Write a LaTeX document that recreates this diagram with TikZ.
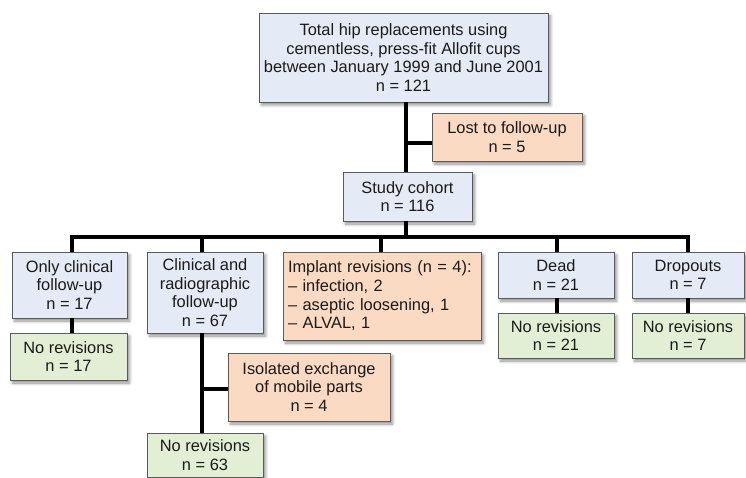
\documentclass[tikz,border=0pt]{standalone}
\usepackage{fontspec}
\setmainfont{Liberation Sans}
\usetikzlibrary{shadows.blur}
\definecolor{bluefill}{HTML}{E4EBF6}
\definecolor{orangefill}{HTML}{FBDAC4}
\definecolor{greenfill}{HTML}{E3EFD4}
\definecolor{edgegray}{HTML}{5A5A5A}
\definecolor{textcol}{HTML}{1A1A1A}
\tikzset{
  basebox/.style={draw=edgegray, line width=0.9pt, inner sep=2pt, align=center,
    text=textcol, font=\fontsize{16.4}{18.7}\selectfont,
    blur shadow={shadow xshift=2.5pt, shadow yshift=-3pt, shadow blur steps=6, shadow opacity=45, shadow blur radius=3pt}},
  bluebox/.style={basebox, fill=bluefill},
  orangebox/.style={basebox, fill=orangefill},
  greenbox/.style={basebox, fill=greenfill},
  link/.style={line width=3.7pt, black}
}
\begin{document}
\begin{tikzpicture}[x=1pt,y=1pt]
\useasboundingbox (0,0) rectangle (746,-478);
% nodes
\node[bluebox, minimum width=289pt, minimum height=89pt] (top) at (403.5,-57.5)
  {Total hip replacements using\\cementless, press-fit Allofit cups\\between January 1999 and June 2001\\n = 121};
\node[orangebox, minimum width=150pt, minimum height=48pt] (lost) at (507,-137)
  {Lost to follow-up\\n = 5};
\node[bluebox, minimum width=129pt, minimum height=49pt] (cohort) at (407.5,-196.5)
  {Study cohort\\n = 116};
\node[bluebox, minimum width=115pt, minimum height=66pt] (onlyclin) at (69.5,-285)
  {Only clinical\\follow-up\\n = 17};
\node[greenbox, minimum width=117pt, minimum height=47pt] (nr17) at (68.5,-356.5)
  {No revisions\\n = 17};
\node[bluebox, minimum width=116pt, minimum height=81pt] (clinrad) at (205,-292.5)
  {Clinical and\\radiographic\\follow-up\\n = 67};
\node[orangebox, minimum width=198pt, minimum height=88pt, align=left, text width=188pt] (implant) at (382,-296)
  {Implant revisions (n = 4):\\– infection, 2\\– aseptic loosening, 1\\– ALVAL, 1};
\node[bluebox, minimum width=116pt, minimum height=46pt] (dead) at (556,-275)
  {Dead\\n = 21};
\node[bluebox, minimum width=112pt, minimum height=46pt] (drop) at (688,-275)
  {Dropouts\\n = 7};
\node[greenbox, minimum width=116pt, minimum height=45pt] (nr21) at (556,-335.5)
  {No revisions\\n = 21};
\node[greenbox, minimum width=112pt, minimum height=45pt] (nr7) at (688,-335.5)
  {No revisions\\n = 7};
\node[orangebox, minimum width=162pt, minimum height=68pt] (isol) at (309,-387)
  {Isolated exchange\\of mobile parts\\n = 4};
\node[greenbox, minimum width=116pt, minimum height=44pt] (nr63) at (205,-455)
  {No revisions\\n = 63};
% helper coordinates
\coordinate (tk) at (406,-143);
\coordinate (busL) at (72,-237);
\coordinate (busR) at (688,-237);
\coordinate (busC) at (406,-237);
\coordinate (b2) at (202,-237);
\coordinate (b3) at (381,-237);
\coordinate (b4) at (557,-237);
\coordinate (xc) at (202,-389);
% connectors
\draw[link] (top.south -| tk) -- (cohort.north -| tk);
\draw[link] (tk) -- (lost.west |- tk);
\draw[link] (cohort.south -| busC) -- (busC);
\draw[link, line cap=rect] (busL) -- (busR);
\draw[link] (busL) -- (onlyclin.north -| busL);
\draw[link] (b2) -- (clinrad.north -| b2);
\draw[link] (b3) -- (implant.north -| b3);
\draw[link] (b4) -- (dead.north -| b4);
\draw[link] (busR) -- (drop.north -| busR);
\draw[link] (onlyclin.south -| busL) -- (nr17.north -| busL);
\draw[link] (dead.south -| b4) -- (nr21.north -| b4);
\draw[link] (drop.south -| busR) -- (nr7.north -| busR);
\draw[link] (clinrad.south -| xc) -- (nr63.north -| xc);
\draw[link] (xc) -- (isol.west |- xc);
\end{tikzpicture}
\end{document}
